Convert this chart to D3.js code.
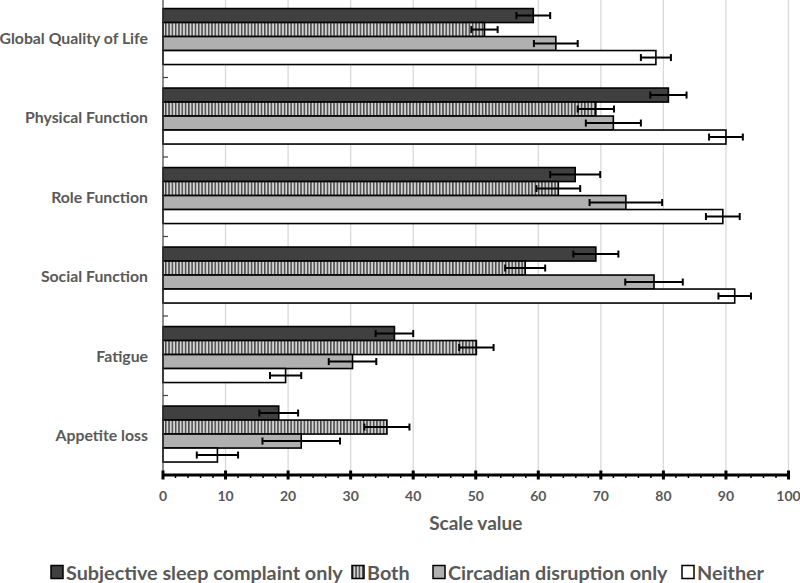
<!DOCTYPE html>
<html><head><meta charset="utf-8">
<script src="https://cdn.jsdelivr.net/npm/d3@7"></script>
<style>body{margin:0;background:#fff}svg{display:block}text{font-family:Lato,"Open Sans",sans-serif;font-weight:bold;fill:#595959}</style>
</head><body><svg id="c" width="800" height="583"></svg>
<script>
const categories = ["Global Quality of Life","Physical Function","Role Function","Social Function","Fatigue","Appetite loss"];
const seriesNames = ["Subjective sleep complaint only","Both","Circadian disruption only","Neither"];
const sleepOnly   = [59.2, 80.8, 65.9, 69.2, 37.0, 18.5];
const sleepOnlyErr= [2.7, 2.9, 4.0, 3.6, 3.0, 3.1];
const both        = [51.4, 69.2, 63.2, 57.9, 50.1, 35.8];
const bothErr     = [2.1, 2.9, 3.5, 3.2, 2.75, 3.6];
const circadian   = [62.8, 72.0, 74.0, 78.5, 30.3, 22.1];
const circadianErr= [3.5, 4.4, 5.8, 4.6, 3.8, 6.2];
const neither     = [78.8, 90.0, 89.5, 91.4, 19.6, 8.7];
const neitherErr  = [2.4, 2.7, 2.7, 2.6, 2.5, 3.3];
const xTicks = [0,10,20,30,40,50,60,70,80,90,100];
const xTitle = "Scale value";

const values = [sleepOnly, both, circadian, neither];
const errs = [sleepOnlyErr, bothErr, circadianErr, neitherErr];
const fills = ["#404040","url(#hatch)","#b0b0b0","#ffffff"];

const svg = d3.select("#c");
const defs = svg.append("defs");
const pat = defs.append("pattern").attr("id","hatch").attr("patternUnits","userSpaceOnUse")
  .attr("width",3.3).attr("height",10);
pat.append("rect").attr("width",3.3).attr("height",10).attr("fill","#d4d4d4");
pat.append("rect").attr("width",1.5).attr("height",10).attr("fill","#4a4a4a");

const pLeft = 163, pRight = 788.5, pTop = -2, pBottom = 475;
const x = d3.scaleLinear().domain([0,100]).range([pLeft,pRight]);
const y = d3.scaleBand().domain(categories).range([pTop,pBottom]);
const bw = y.bandwidth();
const groupH = bw/1.42;
const y1 = d3.scaleBand().domain(seriesNames).range([(bw-groupH)/2 - 1.2, (bw+groupH)/2 - 1.2]);

// gridlines
svg.append("g").selectAll("line").data(xTicks.filter(d=>d>0)).join("line")
  .attr("x1",d=>x(d)).attr("x2",d=>x(d)).attr("y1",pTop).attr("y2",pBottom)
  .attr("stroke","#d9d9d9").attr("stroke-width",1.3);

// bars
const gCat = svg.append("g").selectAll("g").data(categories).join("g")
  .attr("transform",c=>`translate(0,${y(c)})`);
gCat.each(function(c,ci){
  const g = d3.select(this);
  seriesNames.forEach((s,si)=>{
    const v = values[si][ci];
    g.append("rect").attr("x",x(0)).attr("y",y1(s)).attr("width",x(v)-x(0)).attr("height",y1.bandwidth())
      .attr("fill",fills[si]).attr("stroke","#000").attr("stroke-width",1.6);
  });
});
gCat.each(function(c,ci){
  const g = d3.select(this);
  seriesNames.forEach((s,si)=>{
    const v = values[si][ci], e = errs[si][ci];
    const cy = y1(s) + y1.bandwidth()/2;
    g.append("line").attr("x1",x(v-e)).attr("x2",x(v+e)).attr("y1",cy).attr("y2",cy)
      .attr("stroke","#000").attr("stroke-width",2);
    [v-e, v+e].forEach(t=>g.append("line").attr("x1",x(t)).attr("x2",x(t)).attr("y1",cy-3.5).attr("y2",cy+3.5)
      .attr("stroke","#000").attr("stroke-width",2));
  });
});

// y axis
svg.append("line").attr("x1",pLeft).attr("x2",pLeft).attr("y1",pTop).attr("y2",pBottom).attr("stroke","#404040").attr("stroke-width",1.2);
svg.append("g").selectAll("line").data(categories).join("line")
  .attr("x1",pLeft).attr("x2",pLeft+5).attr("y1",c=>y(c)).attr("y2",c=>y(c)).attr("stroke","#404040").attr("stroke-width",1.2);
svg.append("g").selectAll("text").data(categories).join("text")
  .attr("x",148).attr("y",c=>y(c)+bw/2 - 0.5).attr("text-anchor","end").attr("dominant-baseline","central")
  .attr("font-size",15.8).text(c=>c);

// x axis
const minor = d3.range(0,101,2).filter(d=>d%10!==0);
svg.append("g").selectAll("line").data(minor).join("line")
  .attr("x1",d=>x(d)).attr("x2",d=>x(d)).attr("y1",pBottom).attr("y2",pBottom+3).attr("stroke","#000").attr("stroke-width",1.5);
svg.append("line").attr("x1",pLeft).attr("x2",pRight).attr("y1",pBottom).attr("y2",pBottom).attr("stroke","#000").attr("stroke-width",3);
svg.append("g").selectAll("line").data(xTicks).join("line")
  .attr("x1",d=>x(d)).attr("x2",d=>x(d)).attr("y1",pBottom-4.5).attr("y2",pBottom+4.5).attr("stroke","#000").attr("stroke-width",3);
svg.append("g").selectAll("text").data(xTicks).join("text")
  .attr("x",d=>x(d)).attr("y",495).attr("text-anchor","middle").attr("dominant-baseline","central")
  .attr("font-size",14).text(d=>d);
svg.append("text").attr("x",(pLeft+pRight)/2).attr("y",522).attr("text-anchor","middle").attr("dominant-baseline","central")
  .attr("font-size",19).text(xTitle);

// legend
const legX = [51, 352, 433, 682];
const lg = svg.append("g").selectAll("g").data(seriesNames).join("g")
  .attr("transform",(d,i)=>`translate(${legX[i]},572)`);
lg.append("rect").attr("x",0).attr("y",-6.5).attr("width",12).attr("height",13)
  .attr("fill",(d,i)=>fills[i]).attr("stroke","#000").attr("stroke-width",1.5);
lg.append("text").attr("x",15).attr("y",0).attr("dominant-baseline","central").attr("font-size",19.8).text(d=>d);
</script></body></html>
